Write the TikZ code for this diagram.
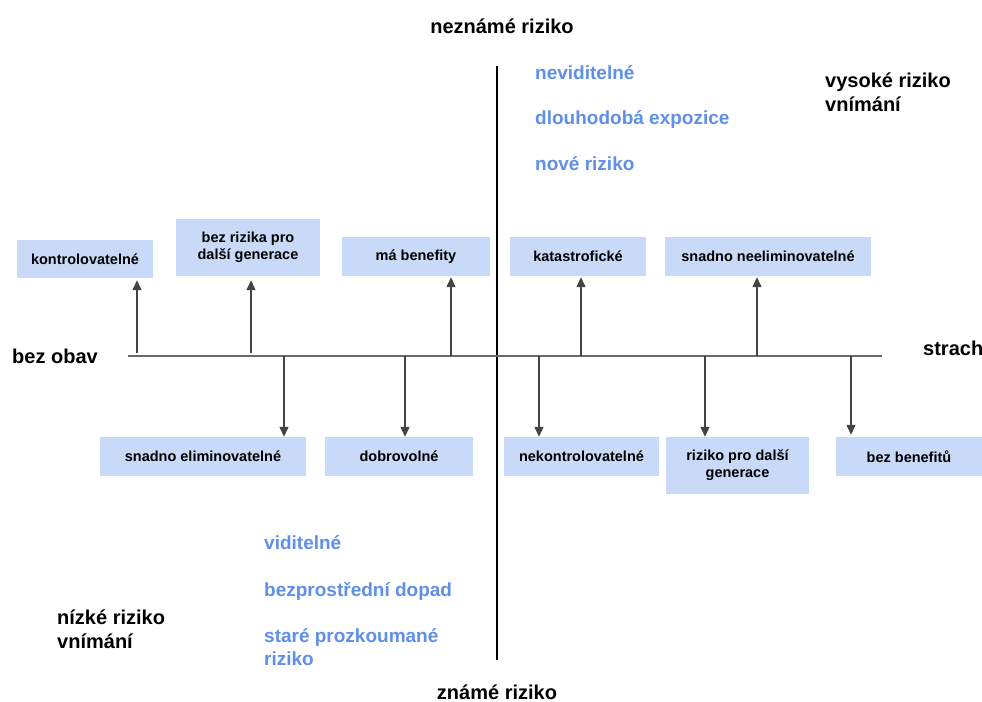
\documentclass[tikz,border=0pt]{standalone}
\usepackage{fontspec}
\setmainfont{Liberation Sans}
\usetikzlibrary{arrows.meta}
\definecolor{boxfill}{HTML}{C9DAF8}
\definecolor{bluetxt}{HTML}{5F8FE8}
\definecolor{axisgray}{HTML}{6A6A6A}
\definecolor{arrgray}{HTML}{444444}
\begin{document}
\begin{tikzpicture}[x=1bp,y=-1bp,
  bx/.style={fill=boxfill, inner sep=0pt, align=center, minimum height=39bp,
             font=\fontsize{14.5bp}{17bp}\selectfont\bfseries},
  head/.style={inner sep=0pt, font=\fontsize{20bp}{24bp}\selectfont\bfseries},
  bluet/.style={inner sep=0pt, anchor=base west, text=bluetxt,
             font=\fontsize{19bp}{23bp}\selectfont\bfseries},
  arr/.style={draw=arrgray, line width=1.3bp, -{Triangle[length=10bp,width=9bp]}}]
\useasboundingbox (0,0) rectangle (982,702);
\fill[white] (0,0) rectangle (982,702);

% axes
\coordinate (vtop) at (497,66);
\coordinate (vbot) at (497,660);
\coordinate (hl) at (128,356);
\coordinate (hr) at (882,356);
\draw[black, line width=1.2bp] (vtop) -- (vbot);
\draw[axisgray, line width=1.6bp] (hl) -- (hr);

% axis labels
\node[head, anchor=base] (unk) at (502,34) {neznámé riziko};
\node[head, anchor=base] (kno) at (497,699) {známé riziko};
\node[head, anchor=base west] (calm) at (12,363) {bez obav};
\node[head, anchor=base west] (fear) at (923,355) {strach};
\node[head, anchor=base west] (hi1) at (825,88) {vysoké riziko};
\node[head, anchor=base west] (hi2) at (825,112) {vnímání};
\node[head, anchor=base west] (lo1) at (57,624) {nízké riziko};
\node[head, anchor=base west] (lo2) at (57,648) {vnímání};

% blue texts
\node[bluet] (t1) at (535,80) {neviditelné};
\node[bluet] (t2) at (535,125) {dlouhodobá expozice};
\node[bluet] (t3) at (535,171) {nové riziko};
\node[bluet] (t4) at (264,549) {viditelné};
\node[bluet] (t5) at (264,596) {bezprostřední dopad};
\node[bluet] (t6) at (264,642) {staré prozkoumané};
\node[bluet] (t7) at (264,665) {riziko};

% top boxes
\node[bx, minimum width=136bp, minimum height=38bp] (b1) at (85,259) {kontrolovatelné};
\node[bx, minimum width=144bp, minimum height=57bp] (b2) at (248,247.5) {bez rizika pro\\další generace};
\node[bx, minimum width=148bp] (b3) at (416,256.5) {má benefity};
\node[bx, minimum width=136bp] (b4) at (578,256.5) {katastrofické};
\node[bx, minimum width=206bp] (b5) at (768,256.5) {snadno neeliminovatelné};

% bottom boxes
\node[bx, minimum width=206bp] (c1) at (203,456.5) {snadno eliminovatelné};
\node[bx, minimum width=148bp] (c2) at (399,456.5) {dobrovolné};
\node[bx, minimum width=155bp] (c3) at (581.5,456.5) {nekontrolovatelné};
\node[bx, minimum width=143bp, minimum height=57bp] (c4) at (737.5,465.5) {riziko pro další\\generace};
\node[bx, minimum width=146bp] (c5) at (909,456.5) {bez benefitů};

% arrow origins on the axis
\coordinate (u1) at (137,353);
\coordinate (u2) at (251,353);
\coordinate (u3) at (451,356);
\coordinate (u4) at (581,356);
\coordinate (u5) at (757,356);
\coordinate (d1) at (284,356);
\coordinate (d2) at (405,356);
\coordinate (d3) at (539,356);
\coordinate (d4) at (705,356);
\coordinate (d5) at (851,356);

\draw[arr, shorten >=2bp] (u1) -- (u1 |- b1.south);
\draw[arr, shorten >=4bp] (u2) -- (u2 |- b2.south);
\draw[arr, shorten >=1bp] (u3) -- (u3 |- b3.south);
\draw[arr, shorten >=1bp] (u4) -- (u4 |- b4.south);
\draw[arr, shorten >=1bp] (u5) -- (u5 |- b5.south);

\draw[arr] (d1) -- (d1 |- c1.north);
\draw[arr] (d2) -- (d2 |- c2.north);
\draw[arr] (d3) -- (d3 |- c3.north);
\draw[arr] (d4) -- (d4 |- c4.north);
\draw[arr, shorten >=2bp] (d5) -- (d5 |- c5.north);
\end{tikzpicture}
\end{document}
